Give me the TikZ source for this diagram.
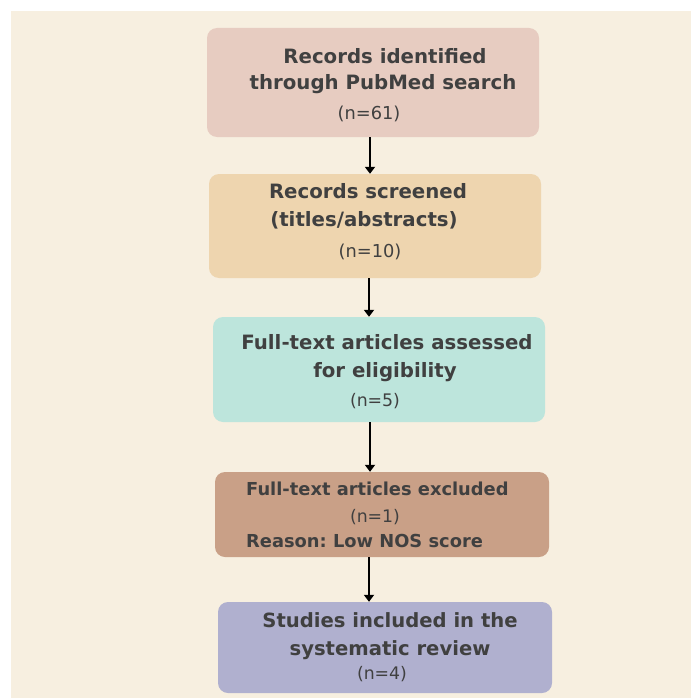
\documentclass[tikz,border=0pt]{standalone}
\usepackage{fontspec}
\setmainfont{DejaVu Sans}
\frenchspacing
\usetikzlibrary{arrows.meta}
\definecolor{bgc}{HTML}{F7EFE0}
\definecolor{cA}{HTML}{E7CCC1}
\definecolor{cB}{HTML}{EED5AF}
\definecolor{cC}{HTML}{BDE5DC}
\definecolor{cD}{HTML}{C9A087}
\definecolor{cE}{HTML}{B0B0CF}
\definecolor{txt}{HTML}{404040}
\tikzset{
  box/.style={draw=none, rounded corners=10pt, inner sep=0pt},
  hd/.style={anchor=base, text=txt, font=\bfseries\fontsize{#1}{#1}\selectfont, inner sep=0pt},
  nn/.style={anchor=base, text=txt, font=\fontsize{#1}{#1}\selectfont, inner sep=0pt},
  arr/.style={line width=2pt, -{Triangle[width=10pt,length=7pt]}}
}
\begin{document}
\begin{tikzpicture}[x=1pt,y=-1pt]
\useasboundingbox (0,0) rectangle (690,698);
\fill[white] (-5,-5) rectangle (700,710);
\fill[bgc] (11,11) rectangle (700,710);
% boxes
\node[box, fill=cA, minimum width=332pt, minimum height=109pt] (b1) at (373,82.5) {};
\node[box, fill=cB, minimum width=332pt, minimum height=104pt] (b2) at (375,226) {};
\node[box, fill=cC, minimum width=332pt, minimum height=105pt] (b3) at (379,369.5) {};
\node[box, fill=cD, minimum width=334pt, minimum height=85pt] (b4) at (382,514.5) {};
\node[box, fill=cE, minimum width=334pt, minimum height=91pt] (b5) at (385,647.5) {};
% texts box 1
\node[hd=19.75] (t1a) at (385,64) {Records identified};
\node[hd=19.75] (t1b) at (383,90) {through PubMed search};
\node[nn=17.8] (t1c) at (369,119.5) {(n=61)};
% box 2
\node[hd=19.75] (t2a) at (368,198) {Records screened};
\node[hd=19.75] (t2b) at (364,226) {(titles/abstracts)};
\node[nn=17.8] (t2c) at (370,257) {(n=10)};
% box 3
\node[hd=19.75] (t3a) at (387,349.5) {Full-text articles assessed};
\node[hd=19.75] (t3b) at (385,377) {for eligibility};
\node[nn=17.3] (t3c) at (375,406) {(n=5)};
% box 4
\node[hd=17.85, anchor=base west] (t4a) at (246,495) {Full-text articles excluded};
\node[nn=17.3] (t4b) at (375,522) {(n=1)};
\node[hd=17.85, anchor=base west] (t4c) at (246,547) {Reason: Low NOS score};
% box 5
\node[hd=19.6] (t5a) at (390,627) {Studies included in the};
\node[hd=19.6] (t5b) at (390,655) {systematic review};
\node[nn=17.3] (t5c) at (382,679) {(n=4)};
% arrows
\draw[arr] (b1.south -| 370,0) -- (b2.north -| 370,0);
\draw[arr] (b2.south -| 369,0) -- (b3.north -| 369,0);
\draw[arr] (b3.south -| 370,0) -- (b4.north -| 370,0);
\draw[arr] (b4.south -| 369,0) -- (b5.north -| 369,0);
\end{tikzpicture}
\end{document}
